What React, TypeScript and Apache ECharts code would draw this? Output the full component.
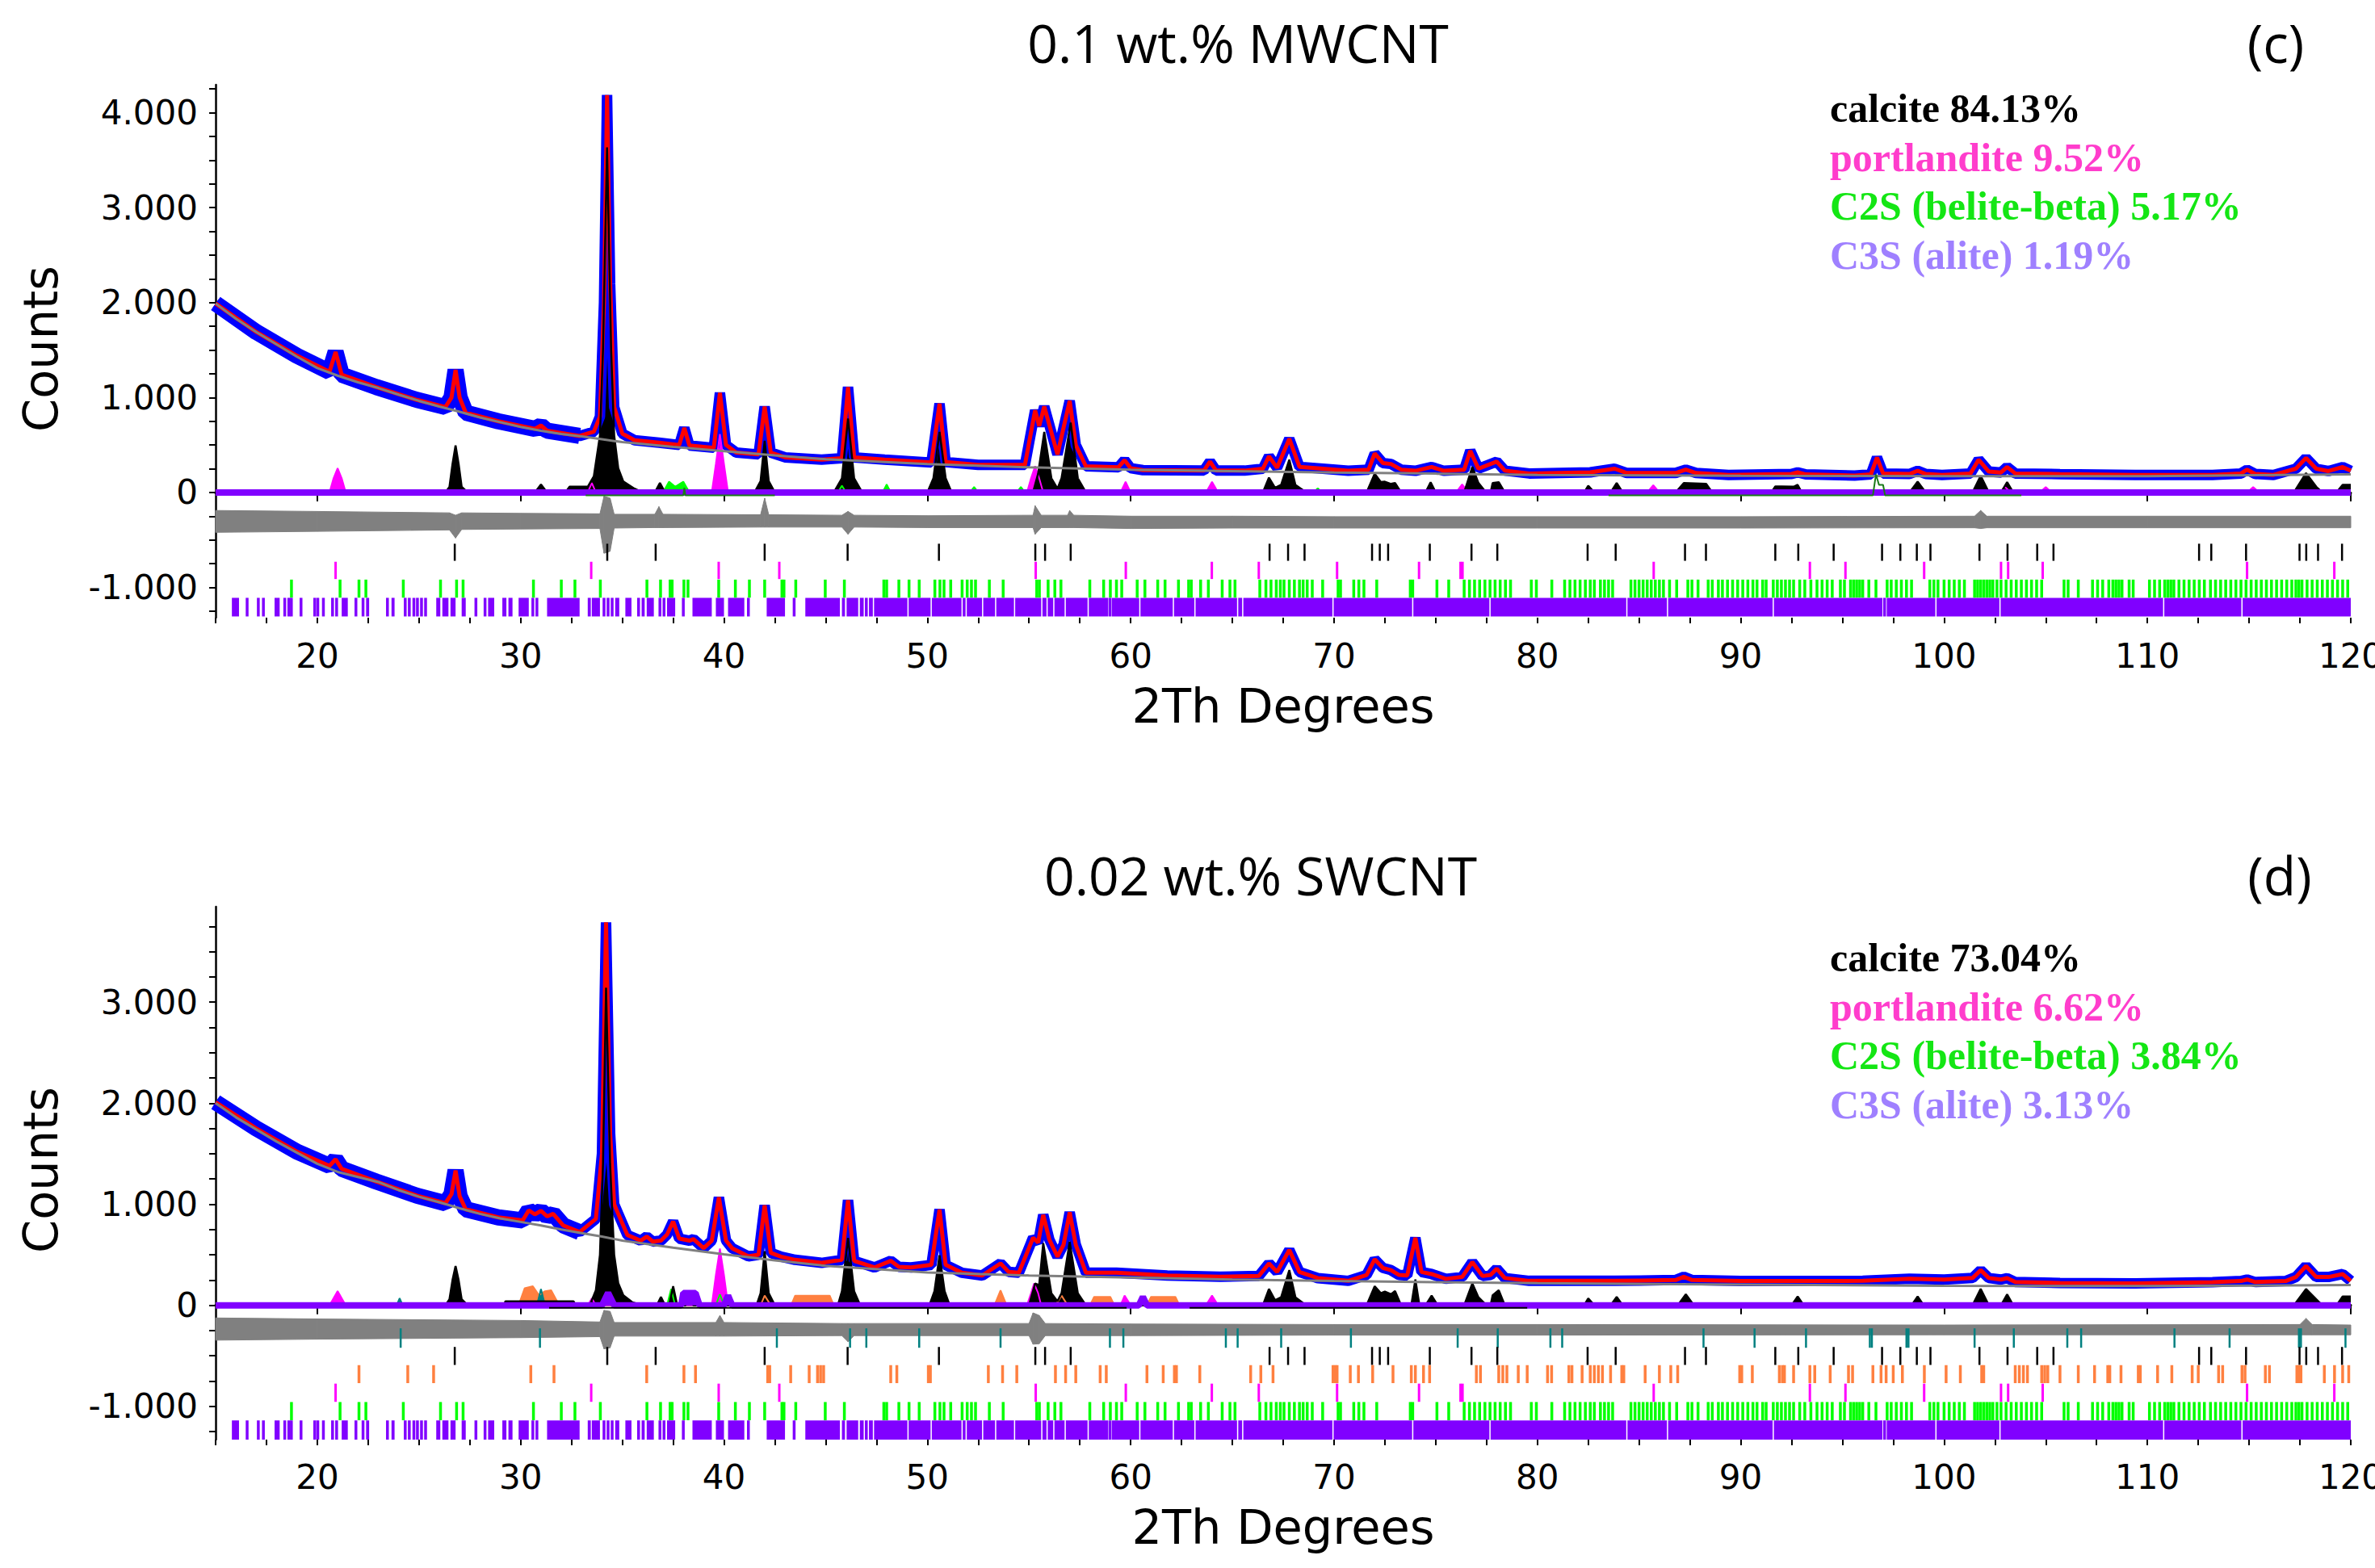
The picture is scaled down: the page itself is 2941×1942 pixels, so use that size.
import React, { useEffect, useRef } from 'react';
import * as echarts from 'echarts';

// ---------- axis labels ----------
const xLabels = [20, 30, 40, 50, 60, 70, 80, 90, 100, 110, 120];
const yLabelsC = [-1000, 0, 1000, 2000, 3000, 4000];
const yLabelsD = [-1000, 0, 1000, 2000, 3000];

// ---------- texts ----------
const titleC = '0.1 wt.% MWCNT';
const titleD = '0.02 wt.% SWCNT';
const phaseNames = ['calcite', 'portlandite', 'C2S (belite-beta)', 'C3S (alite)'];
const pctC = ['84.13%', '9.52%', '5.17%', '1.19%'];
const pctD = ['73.04%', '6.62%', '3.84%', '3.13%'];

// ---------- panel (c) ----------
const bgC = [[15,1990],[16,1830],[17,1690],[18,1560],[19,1430],[20,1310],[21,1230],[22,1160],[23,1100],[24,1030],[25,965],[26,905],[27,850],[28,790],[29,740],[30,690],[31,650],[32,615],[33,590],[34,560],[35,530],[37.5,480],[40,435],[42.5,390],[45,350],[50,300],[55,265],[60,240],[65,225],[70,210],[75,198],[80,185],[90,175],[100,172],[110,172],[120,190]];
const calcC = [[15,1990],[17,1690],[19,1440],[20.6,1270],[20.9,1480],[21.2,1240],[22.9,1110],[24.9,975],[26.3,900],[26.6,1000],[26.8,1290],[27.0,1000],[27.3,840],[28.9,750],[30.7,670],[31.0,705],[31.3,650],[32.9,595],[33.6,640],[33.9,800],[34.1,2000],[34.25,4186],[34.4,2200],[34.6,900],[35.0,620],[35.6,550],[36.8,525],[37.8,500],[38.05,680],[38.3,495],[39.5,470],[39.8,1050],[40.1,500],[40.6,420],[41.7,400],[42.0,905],[42.3,420],[43.0,370],[44.8,345],[45.8,360],[46.1,1110],[46.4,370],[47.9,345],[50.2,315],[50.6,935],[50.9,320],[52.5,290],[54.8,290],[55.3,865],[55.5,700],[55.75,905],[56.4,400],[57.0,965],[57.3,500],[57.8,275],[59.4,265],[59.7,340],[60.0,255],[60.6,235],[63.6,230],[63.9,325],[64.2,230],[65.6,230],[66.5,250],[66.8,380],[67.2,260],[67.8,565],[68.3,270],[69.2,255],[70.7,228],[71.7,240],[72.0,410],[72.4,310],[72.8,300],[73.3,240],[74.0,228],[74.8,268],[75.4,228],[76.4,240],[76.7,440],[77.1,250],[78.0,325],[78.4,230],[79.6,200],[82.6,212],[83.8,250],[84.4,205],[86.8,205],[87.3,240],[87.8,205],[89.4,185],[92.5,195],[92.8,212],[93.2,190],[95.6,178],[96.4,190],[96.7,368],[97.0,200],[98.3,195],[98.7,228],[99.1,195],[99.9,185],[101.3,200],[101.7,345],[102.2,220],[102.8,210],[103.1,268],[103.5,200],[105.7,193],[109.4,185],[113.2,185],[114.6,200],[114.9,240],[115.3,195],[116.2,185],[117.3,250],[117.8,362],[118.3,250],[118.9,225],[119.6,268],[120,228]];
const calciteC = [[15,0],[26.3,0],[26.5,60],[26.65,300],[26.8,495],[26.95,300],[27.1,60],[27.4,0],[30.7,0],[31.0,85],[31.3,0],[32.2,0],[32.4,60],[33.3,60],[33.6,170],[33.9,600],[34.05,1500],[34.25,3635],[34.45,1500],[34.6,600],[34.8,255],[35.05,115],[35.6,40],[36.0,0],[36.6,0],[36.85,100],[37.1,0],[41.5,0],[41.8,120],[42.0,545],[42.2,120],[42.5,0],[45.4,0],[45.8,150],[46.1,778],[46.4,150],[46.8,0],[50.0,0],[50.3,150],[50.6,637],[50.9,150],[51.2,0],[55.2,0],[55.45,200],[55.75,637],[56.1,150],[56.4,40],[56.6,150],[57.05,735],[57.4,150],[57.8,0],[66.5,0],[66.8,156],[67.1,50],[67.4,80],[67.8,345],[68.1,80],[68.5,20],[68.8,0],[71.6,0],[72.0,198],[72.3,110],[72.5,113],[72.8,90],[73.0,99],[73.3,0],[74.5,0],[74.75,108],[75.0,0],[76.4,0],[76.8,269],[77.1,100],[77.4,20],[77.7,0],[77.8,100],[78.1,108],[78.4,0],[82.3,0],[82.5,71],[82.8,0],[83.6,0],[83.9,99],[84.2,0],[86.8,0],[87.2,99],[88.3,90],[88.6,0],[91.5,0],[91.7,63],[92.0,63],[92.6,60],[92.8,80],[93.0,0],[98.3,0],[98.7,113],[99.1,0],[101.4,0],[101.8,176],[102.2,0],[102.8,0],[103.1,108],[103.4,0],[117.2,0],[117.8,204],[118.3,60],[118.6,0],[119.3,0],[119.6,80],[120,80]];
const portlanditeC = [[15,0],[20.6,0],[20.8,150],[21.0,255],[21.2,150],[21.4,0],[33.3,0],[33.5,100],[33.7,0],[39.4,0],[39.6,300],[39.8,615],[40.0,300],[40.2,0],[54.9,0],[55.1,150],[55.3,277],[55.5,150],[55.7,0],[59.5,0],[59.75,113],[60.0,0],[63.7,0],[64.0,113],[64.3,0],[76.0,0],[76.3,85],[76.6,0],[85.4,0],[85.7,77],[86.0,0],[102.7,0],[103.0,57],[103.3,0],[104.7,0],[105.0,57],[105.3,0],[114.9,0],[115.2,57],[115.5,0],[120,0]];
const beliteC = [[15,0],[37.0,0],[37.3,114],[37.6,60],[38.0,114],[38.3,0],[45.6,0],[45.8,71],[46.0,0],[47.8,0],[48.0,85],[48.2,0],[52.1,0],[52.3,57],[52.5,0],[54.4,0],[54.6,57],[54.8,0],[69.0,0],[69.2,45],[69.4,0],[120,0]];
const aliteC = [[15,0],[120,0]];
const traceC1 = [[33.2,-30],[38.0,-30],[38.05,50],[38.1,-30],[42.5,-30]];
const traceC2 = [[83.5,-30],[96.5,-30],[96.65,190],[96.8,80],[97.0,80],[97.1,-30],[103.8,-30]];
const diffC = [[15,-420,-190],[20,-410,-200],[26.5,-395,-215],[26.8,-480,-240],[27.1,-390,-215],[30,-385,-220],[33.9,-380,-225],[34.1,-640,-40],[34.4,-620,-60],[34.6,-375,-230],[36.6,-370,-230],[36.8,-370,-150],[37.0,-370,-230],[41.8,-365,-235],[42.0,-365,-60],[42.2,-365,-235],[45.8,-365,-240],[46.1,-440,-200],[46.4,-365,-240],[50,-370,-245],[55.2,-370,-240],[55.3,-440,-140],[55.6,-370,-240],[56.9,-370,-240],[57.0,-370,-190],[57.2,-370,-240],[60,-380,-250],[65,-375,-250],[70,-375,-255],[80,-375,-255],[90,-375,-255],[101.5,-372,-250],[101.8,-380,-190],[102.1,-372,-250],[110,-372,-250],[120,-372,-250]];

// ---------- panel (d) ----------
const bgD = [[15,2000],[16,1860],[17,1740],[18,1620],[19,1510],[20,1400],[21,1320],[22,1270],[23,1220],[24,1140],[25,1075],[26,1020],[27,960],[28,905],[29,860],[30,825],[31,790],[32,750],[33,715],[34,680],[35,640],[37.5,570],[40,505],[42.5,445],[45,390],[50,325],[55,295],[60,275],[65,255],[70,240],[75,228],[80,218],[90,205],[100,192],[110,190],[120,200]];
const calcD = [[15,2010],[17,1750],[19,1520],[20.6,1380],[20.9,1445],[21.2,1350],[22.9,1225],[24.9,1085],[26.3,1010],[26.6,1100],[26.8,1335],[27.0,1080],[27.3,950],[28.9,870],[30.1,840],[30.4,940],[30.7,900],[31.0,935],[31.3,880],[31.6,905],[32.1,790],[32.9,725],[33.7,855],[34.0,1500],[34.2,3790],[34.4,1700],[34.6,1000],[34.8,905],[35.25,695],[35.9,640],[36.2,680],[36.5,630],[36.9,640],[37.2,700],[37.5,830],[37.8,660],[38.3,640],[38.5,655],[39.0,565],[39.4,640],[39.75,1068],[40.1,640],[40.4,565],[41.2,485],[41.7,500],[42.0,990],[42.3,520],[42.8,482],[43.5,450],[44.8,420],[45.8,450],[46.1,1040],[46.4,440],[47.4,375],[48.2,440],[48.6,380],[49.2,375],[50.2,400],[50.6,948],[50.9,400],[51.7,322],[52.7,295],[53.6,415],[54.0,330],[54.5,322],[55.2,668],[55.45,620],[55.7,895],[56.0,650],[56.4,482],[56.7,600],[57.0,920],[57.3,600],[57.8,322],[59.3,322],[61.8,295],[64.4,282],[66.3,290],[66.8,415],[67.2,330],[67.8,548],[68.3,330],[69.2,269],[70.7,242],[71.6,300],[72.0,455],[72.4,370],[72.8,348],[73.2,300],[73.6,295],[74.0,668],[74.3,330],[74.8,309],[75.5,262],[76.3,280],[76.8,428],[77.3,290],[77.7,300],[78.0,362],[78.4,270],[79.6,242],[83.8,242],[86.8,250],[87.2,282],[87.6,250],[90,240],[96,242],[98.3,263],[100,255],[101.4,270],[101.8,348],[102.2,270],[102.8,255],[103.1,269],[103.5,230],[105.7,221],[109.4,216],[113.2,229],[114.6,240],[114.9,255],[115.3,230],[116.8,240],[117.3,280],[117.8,389],[118.3,280],[118.9,280],[119.6,309],[120,242]];
const calciteD = [[15,0],[26.3,0],[26.5,60],[26.65,250],[26.8,389],[26.95,250],[27.1,60],[27.4,0],[29.2,0],[29.25,40],[32.6,40],[32.7,0],[33.4,0],[33.7,150],[33.9,500],[34.05,1400],[34.2,3143],[34.4,1400],[34.6,500],[34.8,220],[35.05,100],[35.5,30],[36.0,0],[36.7,0],[36.9,83],[37.1,0],[37.3,0],[37.5,189],[37.7,0],[38.1,0],[38.3,96],[38.5,0],[41.6,0],[41.8,120],[42.0,535],[42.2,120],[42.5,0],[45.6,0],[45.8,140],[46.1,668],[46.4,140],[46.7,0],[50.1,0],[50.35,140],[50.6,495],[50.85,140],[51.1,0],[55.0,0],[55.3,216],[55.5,200],[55.7,615],[56.1,120],[56.4,40],[56.6,120],[57.0,628],[57.4,120],[57.8,0],[66.5,0],[66.8,162],[67.1,50],[67.4,80],[67.8,348],[68.1,80],[68.5,20],[68.8,0],[71.6,0],[72.0,189],[72.3,120],[72.5,136],[72.8,110],[73.0,141],[73.3,0],[73.8,0],[74.0,255],[74.2,0],[74.5,0],[74.8,96],[75.1,0],[76.4,0],[76.8,216],[77.1,80],[77.4,20],[77.7,0],[77.8,100],[78.1,149],[78.4,0],[82.3,0],[82.5,69],[82.8,0],[83.6,0],[83.9,83],[84.2,0],[86.9,0],[87.3,109],[87.7,0],[92.5,0],[92.8,88],[93.1,0],[98.4,0],[98.7,88],[99.0,0],[101.4,0],[101.8,162],[102.2,0],[102.8,0],[103.1,109],[103.4,0],[117.2,0],[117.8,162],[118.3,60],[118.6,0],[119.3,0],[119.6,88],[120,88]];
const portlanditeD = [[15,0],[20.6,0],[21.0,141],[21.4,0],[33.3,0],[33.5,69],[33.7,0],[39.4,0],[39.6,300],[39.8,562],[40.0,300],[40.2,0],[54.9,0],[55.1,120],[55.25,216],[55.45,120],[55.6,0],[59.5,0],[59.7,96],[60.0,0],[63.7,0],[64.0,96],[64.3,0],[120,0]];
const beliteD = [[15,0],[37.2,0],[37.4,162],[37.6,0],[39.6,0],[39.8,109],[40.0,0],[120,0]];
const aliteD = [[15,0],[34.0,0],[34.3,122],[34.6,0],[37.9,0],[38.0,122],[38.6,122],[38.8,0],[40.0,0],[40.2,96],[40.4,0],[60.4,0],[60.6,83],[60.8,0],[120,0]];
const orangePhaseD = [[15,0],[29.9,0],[30.2,170],[30.6,189],[30.9,100],[31.2,140],[31.5,149],[31.9,0],[41.8,0],[42.0,96],[42.3,0],[43.3,0],[43.5,96],[45.2,96],[45.4,0],[53.3,0],[53.6,149],[53.9,0],[56.3,0],[56.6,96],[56.9,0],[58.0,0],[58.2,83],[59.0,83],[59.2,0],[60.8,0],[61.0,83],[62.2,83],[62.4,0],[120,0]];
const tealPhaseD = [[15,0],[23.9,0],[24.05,69],[24.2,0],[30.8,0],[31.0,162],[31.2,0],[120,0]];
const traceD1 = [[31.4,-25],[59.8,-25]];
const traceD2 = [[62.9,-25],[79.5,-25]];
const diffD = [[15,-345,-125],[20,-335,-135],[30,-320,-150],[33.9,-310,-165],[34.1,-430,-50],[34.4,-420,-60],[34.6,-305,-170],[39.6,-305,-170],[39.8,-305,-100],[40.0,-305,-170],[45.8,-300,-180],[46.1,-360,-180],[46.4,-300,-180],[55.0,-300,-180],[55.2,-385,-75],[55.5,-380,-100],[55.8,-300,-180],[60,-300,-185],[70,-295,-190],[80,-295,-190],[100,-292,-195],[117.5,-292,-190],[117.8,-292,-130],[118.1,-292,-190],[120,-292,-195]];

// ---------- reflection tick positions (2θ) ----------
const calciteTicks = [26.76,34.26,36.64,42.0,46.08,50.57,55.31,55.79,57.05,66.83,67.74,68.55,71.87,72.25,72.66,74.71,76.76,78.03,82.47,83.85,87.26,88.29,91.7,92.83,94.57,96.95,97.85,98.66,99.33,101.74,103.12,104.58,105.38,112.54,113.14,114.85,117.48,117.81,118.39,119.57];
const portlanditeTicks = [20.9,33.47,39.74,42.72,55.33,59.76,63.99,66.3,70.15,74.18,76.22,76.32,85.72,93.4,95.15,99.02,102.8,103.15,104.85,114.9,119.19];
const beliteTicks = [18.73,21.12,22.05,22.39,24.23,26.06,26.85,27.17,30.63,32.0,32.67,33.92,36.21,36.88,37.35,37.45,38.03,38.23,39.74,40.56,41.25,42.0,42.85,42.95,43.53,44.98,45.92,47.86,48.0,48.6,49.1,49.6,50.37,50.62,50.82,51.15,51.71,51.96,52.17,52.37,53.05,53.73,55.38,55.51,55.94,56.27,56.57,57.99,58.67,59.0,59.3,59.56,60.32,60.7,61.33,61.69,62.35,62.85,62.98,63.44,63.82,64.5,64.88,65.13,66.35,66.65,66.9,67.16,67.36,67.54,67.8,68.05,68.3,68.48,68.68,68.93,69.44,70.2,70.32,70.97,71.22,71.47,72.1,73.75,73.87,75.06,75.64,76.4,76.66,76.91,77.16,77.42,77.67,77.92,78.17,78.43,78.68,79.7,79.95,80.71,81.34,81.6,81.85,82.1,82.36,82.6,82.8,83.1,83.3,83.5,83.7,84.6,84.8,85.0,85.2,85.4,85.6,85.8,86.0,86.2,86.5,86.85,87.4,87.6,87.9,88.4,88.6,88.9,89.1,89.35,89.6,89.85,90.1,90.35,90.6,90.8,91.08,91.25,91.6,91.8,92.0,92.2,92.4,92.6,92.9,93.15,93.45,93.75,94.0,94.25,94.5,94.9,95.1,95.4,95.55,95.7,95.85,96.0,96.3,96.65,97.2,97.4,97.65,97.9,98.15,98.4,99.3,99.5,99.7,100.0,100.25,100.5,100.75,101.0,101.5,101.65,101.8,101.95,102.1,102.25,102.4,102.6,102.8,103.05,103.3,103.55,103.8,104.05,104.3,104.55,104.8,105.9,106.1,106.6,107.3,107.55,107.8,108.1,108.3,108.45,108.6,108.75,109.1,109.3,110.1,110.35,110.6,110.85,111.0,111.15,111.3,111.55,111.8,112.05,112.3,112.55,112.8,113.1,113.35,113.6,113.85,114.1,114.35,114.6,114.85,115.1,115.35,115.6,115.85,116.1,116.35,116.6,116.85,117.1,117.3,117.45,117.6,117.85,118.1,118.35,118.6,118.85,119.1,119.35,119.6,119.85];
const aliteSegments = [[15.8,16.15],[16.5,16.6],[17.05,17.15],[17.3,17.4],[17.9,18.15],[18.35,18.45],[18.55,18.65],[18.7,18.75],[19.15,19.25],[19.85,19.9],[20.0,20.05],[20.25,20.35],[20.7,20.8],[20.9,21.0],[21.2,21.5],[21.85,21.95],[22.2,22.3],[22.4,22.55],[23.4,23.5],[23.65,23.8],[24.3,24.35],[24.5,24.55],[24.7,24.8],[24.9,24.95],[25.1,25.15],[25.3,25.35],[25.85,26.05],[26.15,26.45],[26.55,26.8],[27.1,27.3],[27.75,27.85],[28.2,28.3],[28.4,28.7],[29.1,29.3],[29.4,29.6],[29.9,30.4],[30.55,30.65],[30.75,30.85],[31.3,32.9],[33.3,33.45],[33.5,33.9],[34.05,34.15],[34.25,34.35],[34.45,34.55],[34.65,34.85],[35.15,35.45],[35.75,35.85],[35.95,36.1],[36.2,36.55],[36.8,36.9],[37.0,37.1],[37.2,37.6],[37.95,38.05],[38.45,39.4],[39.6,40.0],[40.2,41.0],[41.15,41.25],[42.1,43.0],[43.4,43.5],[44.0,45.7],[45.8,45.95],[46.03,46.6],[46.68,46.87],[46.93,47.07],[47.13,47.32],[47.38,49.02],[49.08,50.16],[50.22,51.68],[51.74,51.88],[51.94,52.69],[52.75,53.33],[53.39,54.26],[54.32,55.6],[55.66,55.86],[55.92,56.19],[56.25,56.75],[56.81,57.88],[57.94,58.9],[58.96,59.02],[59.08,60.42],[60.48,62.07],[62.13,63.13],[63.19,65.23],[65.29,65.48],[65.54,69.92],[69.98,73.84],[73.9,77.64],[77.7,84.37],[84.43,86.37],[86.43,91.57],[91.63,96.97],[97.03,97.12],[97.18,99.57],[99.63,102.72],[102.78,110.77],[110.83,114.62],[114.68,120]];
const orangeTicksD = [22.05,24.45,25.72,30.5,31.64,36.2,38.03,38.6,42.15,42.25,43.28,44.19,44.6,44.75,44.9,48.2,48.5,50.05,50.15,53.0,53.7,54.4,56.3,56.8,57.3,58.5,58.8,60.8,61.6,62.15,62.25,63.4,65.9,66.4,67.0,69.95,70.05,70.15,70.8,71.2,71.9,72.9,73.8,74.0,74.4,74.7,77.0,77.2,78.1,78.3,78.5,79.06,79.5,80.5,80.7,81.55,81.7,82.2,82.6,82.8,83.0,83.2,83.6,84.15,84.25,85.3,86.0,86.56,86.9,89.95,90.05,90.57,91.9,92.05,92.15,92.6,93.4,93.64,94.4,95.3,95.5,96.5,96.9,97.15,97.5,97.95,99.03,100.1,100.8,101.85,101.95,103.5,103.7,103.9,104.1,104.8,104.95,105.1,105.7,106.6,107.4,108.05,108.15,108.7,109.55,109.65,110.5,111.2,112.2,112.5,113.5,113.7,114.65,114.8,115.8,116.0,117.35,117.45,117.55,118.7,119.2,119.6,119.9];
const tealTicksD = [24.1,30.95,42.6,46.2,47.0,49.6,53.6,58.98,59.64,64.68,65.26,67.4,70.83,76.08,78.05,80.64,81.22,88.17,90.68,93.21,96.35,96.45,98.15,98.25,101.5,103.43,106.06,106.74,111.33,114.04,117.45,117.55,119.74];

// ---------- colours ----------
const C = {
  obs: '#0000ff', calc: '#ff0000', bg: '#808080', diff: '#808080',
  calcite: '#000000', portlandite: '#ff00ff', belite: '#00ff00', alite: '#8000ff',
  orange: '#ff8040', teal: '#008080', darkGreen: '#1a7a1a',
  legend: ['#000000', '#ff3dcc', '#14e614', '#9f80ff'],
};

const FONT_AXIS = 'DejaVu Sans';
const fmt = (v: number) => (v === 0 ? '0' : (v < 0 ? '-' : '') + Math.abs(v / 1000) + '.000');

function stepValues(a: number, b: number, s: number) {
  const out: number[] = [];
  for (let v = a; v <= b + 1e-9; v += s) out.push(Math.round(v * 100) / 100);
  return out;
}

function lineS(xi: number, yi: number, data: number[][], color: string, width: number, area = false, z = 2) {
  return {
    type: 'line', xAxisIndex: xi, yAxisIndex: yi, data, symbol: 'none', z,
    lineStyle: { color, width }, itemStyle: { color },
    areaStyle: area ? { color, opacity: 1 } : undefined,
    silent: true, animation: false,
  };
}

function tickRow(xi: number, yi: number, items: any[], y0: number, y1: number, color: string, minW: number) {
  const data = items.map((it) => (Array.isArray(it) ? it : [it, it]));
  return {
    type: 'custom', xAxisIndex: xi, yAxisIndex: yi, data, z: 3,
    encode: { x: [0, 1] }, silent: true, animation: false,
    renderItem: (_p: any, api: any) => {
      const a = api.coord([api.value(0), y0]);
      const b = api.coord([api.value(1), y1]);
      const w = Math.max(minW, b[0] - a[0]);
      const cx = (a[0] + b[0]) / 2;
      return { type: 'rect', shape: { x: cx - w / 2, y: a[1], width: w, height: b[1] - a[1] }, style: { fill: color } };
    },
  };
}

function bandS(xi: number, yi: number, pts: number[][], color: string) {
  const data = pts.slice(0, -1).map((p, i) => [p[0], pts[i + 1][0], p[1], p[2]]);
  return {
    type: 'custom', xAxisIndex: xi, yAxisIndex: yi, data, z: 2,
    encode: { x: [0, 1], y: [2, 3] }, silent: true, animation: false,
    renderItem: (params: any, api: any) => {
      const i = params.dataIndex;
      const p = pts[i], q = pts[i + 1];
      const points = [api.coord([p[0], p[2]]), api.coord([q[0], q[2]]), api.coord([q[0], q[1]]), api.coord([p[0], p[1]])];
      return { type: 'polygon', shape: { points }, style: { fill: color, stroke: color, lineWidth: 1 } };
    },
  };
}

function panelSeries(xi: number, yi: number, d: any) {
  const s: any[] = [];
  s.push(lineS(xi, yi, d.calc.filter((p: number[]) => p[0] <= 33.5), C.obs, 20));
  s.push(lineS(xi, yi, d.calc, C.obs, 13));
  s.push(lineS(xi, yi, d.calc, C.calc, 5));
  s.push(lineS(xi, yi, d.bg, C.bg, 3, false, 3));
  if (d.orange) s.push(lineS(xi, yi, d.orange, C.orange, 2, true));
  if (d.teal) s.push(lineS(xi, yi, d.teal, C.teal, 2, true));
  s.push(lineS(xi, yi, d.belite, C.belite, 2, true));
  s.push(lineS(xi, yi, d.portlandite, C.portlandite, 2, true));
  s.push(lineS(xi, yi, d.calcite, C.calcite, 2.5, true));
  s.push(lineS(xi, yi, d.alite, C.alite, 8, true, 3));
  for (const t of d.traces) s.push(lineS(xi, yi, t, d.traceColor, 2, false, 4));
  s.push(bandS(xi, yi, d.diff, C.diff));
  for (const r of d.rows) s.push(tickRow(xi, yi, r.items, r.y0, r.y1, r.color, r.w));
  return s;
}

export default function App() {
  const ref = useRef<HTMLDivElement>(null);
  useEffect(() => {
    if (!ref.current) return;
    const chart = echarts.init(ref.current, undefined, { renderer: 'svg' });

    const grids = [
      { left: 267, top: 105, width: 2644, height: 660, outerBoundsMode: 'none', containLabel: false },
      { left: 267, top: 1123, width: 2644, height: 660, outerBoundsMode: 'none', containLabel: false },
    ];
    const xMinor = stepValues(15, 120, 2.5);
    const mkX = (g: number, labelMargin: number) => [
      {
        type: 'value', gridIndex: g, min: 15, max: 120, position: 'bottom',
        axisLine: { show: true, lineStyle: { color: '#000', width: 3 } },
        axisTick: { show: true, inside: false, length: 11, customValues: xLabels, lineStyle: { color: '#000', width: 2 } },
        axisLabel: { show: true, customValues: xLabels, margin: labelMargin, fontFamily: FONT_AXIS, fontSize: 42, color: '#000', alignMaxLabel: 'center', hideOverlap: false },
        splitLine: { show: false },
      },
      {
        type: 'value', gridIndex: g, min: 15, max: 120, position: 'bottom',
        axisLine: { show: false },
        axisTick: { show: true, inside: false, length: 7, customValues: xMinor, lineStyle: { color: '#000', width: 2 } },
        axisLabel: { show: false },
        splitLine: { show: false },
      },
    ];
    const mkY = (g: number, min: number, max: number, labels: number[]) => ({
      type: 'value', gridIndex: g, min, max,
      axisLine: { show: true, lineStyle: { color: '#000', width: 2.5 } },
      axisTick: { show: true, inside: false, length: 8, customValues: stepValues(-1250, max, 250).filter((v) => v >= min), lineStyle: { color: '#000', width: 2 } },
      axisLabel: { show: true, customValues: labels, formatter: fmt, margin: 22, fontFamily: FONT_AXIS, fontSize: 42, color: '#000' },
      splitLine: { show: false },
    });

    const rowsC = [
      { items: calciteTicks, y0: -540, y1: -720, color: C.calcite, w: 2.5 },
      { items: portlanditeTicks, y0: -730, y1: -912, color: C.portlandite, w: 3 },
      { items: beliteTicks, y0: -918, y1: -1108, color: C.belite, w: 3.5 },
      { items: aliteSegments, y0: -1110, y1: -1306, color: C.alite, w: 3.5 },
    ];
    const rowsD = [
      { items: tealTicksD, y0: -228, y1: -420, color: C.teal, w: 2.5 },
      { items: calciteTicks, y0: -412, y1: -590, color: C.calcite, w: 2.5 },
      { items: orangeTicksD, y0: -592, y1: -770, color: C.orange, w: 3.5 },
      { items: portlanditeTicks, y0: -775, y1: -955, color: C.portlandite, w: 3 },
      { items: beliteTicks, y0: -957, y1: -1137, color: C.belite, w: 3.5 },
      { items: aliteSegments, y0: -1139, y1: -1329, color: C.alite, w: 3.5 },
    ];

    const series = [
      ...panelSeries(0, 0, { calc: calcC, bg: bgC, calcite: calciteC, portlandite: portlanditeC, belite: beliteC, alite: aliteC, traces: [traceC1, traceC2], traceColor: C.darkGreen, diff: diffC, rows: rowsC }),
      ...panelSeries(2, 1, { calc: calcD, bg: bgD, calcite: calciteD, portlandite: portlanditeD, belite: beliteD, alite: aliteD, orange: orangePhaseD, teal: tealPhaseD, traces: [traceD1, traceD2], traceColor: '#000000', diff: diffD, rows: rowsD }),
    ];

    const txt = (x: number, y: number, text: string, font: any, extra: any = {}) => ({
      type: 'text', x, y, silent: true, ...extra,
      style: { text, fill: font.color || '#000', fontSize: font.size, fontFamily: font.family, fontWeight: font.weight || 'normal', align: font.align || 'center', verticalAlign: 'middle', textAlign: font.align || 'center', textVerticalAlign: 'middle' },
    });
    const legendTexts = (y0: number, pcts: string[]) => phaseNames.map((n, i) =>
      txt(2266, y0 + i * 60.5, n + ' ' + pcts[i], { size: 50, family: 'Liberation Serif', weight: 'bold', color: C.legend[i], align: 'left' }));

    const graphic = [
      txt(1533, 52, titleC, { size: 66, family: 'Open Sans' }),
      txt(2818, 52, '(c)', { size: 66, family: 'Open Sans' }),
      txt(1561, 1083, titleD, { size: 66, family: 'Open Sans' }),
      txt(2823, 1083, '(d)', { size: 66, family: 'Open Sans' }),
      txt(50, 432, 'Counts', { size: 59, family: FONT_AXIS }, { rotation: Math.PI / 2 }),
      txt(50, 1449, 'Counts', { size: 59, family: FONT_AXIS }, { rotation: Math.PI / 2 }),
      txt(1589, 874, '2Th Degrees', { size: 59, family: FONT_AXIS }),
      txt(1589, 1891, '2Th Degrees', { size: 59, family: FONT_AXIS }),
      ...legendTexts(134, pctC),
      ...legendTexts(1186, pctD),
    ];

    chart.setOption({
      animation: false,
      backgroundColor: '#ffffff',
      grid: grids,
      xAxis: [...mkX(0, 26), ...mkX(1, 25)],
      yAxis: [mkY(0, -1319, 4294, yLabelsC), mkY(1, -1329, 3944, yLabelsD)],
      series,
      graphic,
    });
    return () => chart.dispose();
  }, []);
  return <div ref={ref} style={{ position: 'absolute', left: 0, top: 0, width: 2941, height: 1942, background: '#fff' }} />;
}
